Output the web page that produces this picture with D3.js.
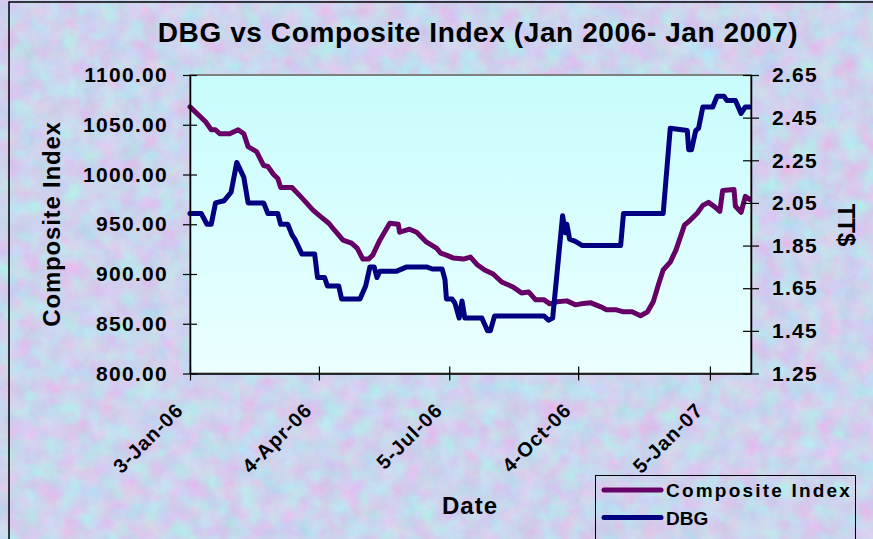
<!DOCTYPE html>
<html>
<head>
<meta charset="utf-8">
<script src="https://cdn.jsdelivr.net/npm/d3@7"></script>
<style>
  body { margin: 0; background: #ffffff; }
  svg { display: block; }
  text { font-family: 'Liberation Sans', Arial, sans-serif; font-weight: bold; fill: #000; }
</style>
</head>
<body>
<script>
// Composite Index (left axis)
const compositeDates = ['2006-01-03','2006-01-14','2006-01-18','2006-01-21','2006-01-24','2006-01-31','2006-02-06','2006-02-10','2006-02-13','2006-02-19',
  '2006-02-24','2006-02-27','2006-03-03','2006-03-06','2006-03-08','2006-03-16','2006-03-22','2006-03-31','2006-04-05','2006-04-11',
  '2006-04-15','2006-04-21','2006-04-27','2006-05-01','2006-05-05','2006-05-09','2006-05-12','2006-05-17','2006-05-24','2006-05-30',
  '2006-05-31','2006-06-07','2006-06-12','2006-06-19','2006-06-26','2006-06-29','2006-07-03','2006-07-08','2006-07-15','2006-07-20',
  '2006-07-25','2006-07-30','2006-08-05','2006-08-11','2006-08-19','2006-08-25','2006-08-30','2006-09-04','2006-09-10','2006-09-14',
  '2006-09-19','2006-09-26','2006-10-02','2006-10-06','2006-10-13','2006-10-20','2006-10-24','2006-10-31','2006-11-05','2006-11-11',
  '2006-11-17','2006-11-22','2006-11-26','2006-11-30','2006-12-03','2006-12-08','2006-12-12','2006-12-18','2006-12-22','2006-12-27',
  '2006-12-31','2007-01-04','2007-01-08','2007-01-12','2007-01-14','2007-01-22','2007-01-23','2007-01-27','2007-01-30','2007-02-02'];
const compositeValues = [1068,1053,1045,1045,1041,1041,1045,1041,1028,1023,
  1009,1008,1000,996,987,987,978,964,958,951,
  944,934,931,926,915,915,919,934,951,950,
  942,945,942,932,926,921,919,916,915,917,
  909,904,900,892,887,881,882,874,874,870,
  872,873,869,870,871,867,864,864,862,862,
  858,862,872,891,904,912,924,949,954,961,
  969,972,968,963,984,985,968,962,978,975];

// DBG share price in TT$ (right axis)
const dbgDates = ['2006-01-03','2006-01-11','2006-01-15','2006-01-18','2006-01-21','2006-01-27','2006-02-01','2006-02-05','2006-02-10','2006-02-13',
  '2006-02-24','2006-02-27','2006-03-06','2006-03-08','2006-03-13','2006-03-16','2006-03-18','2006-03-23','2006-04-01','2006-04-03',
  '2006-04-08','2006-04-10','2006-04-18','2006-04-20','2006-05-03','2006-05-07','2006-05-10','2006-05-13','2006-05-15','2006-05-17',
  '2006-05-29','2006-06-05','2006-06-19','2006-06-23','2006-06-30','2006-07-02','2006-07-03','2006-07-07','2006-07-09','2006-07-12',
  '2006-07-14','2006-07-16','2006-07-28','2006-08-01','2006-08-03','2006-08-06','2006-09-10','2006-09-13','2006-09-16','2006-09-23',
  '2006-09-25','2006-09-26','2006-09-28','2006-10-02','2006-10-07','2006-11-03','2006-11-05','2006-12-03','2006-12-08','2006-12-20',
  '2006-12-21','2006-12-23','2006-12-26','2006-12-28','2006-12-31','2007-01-07','2007-01-10','2007-01-15','2007-01-17','2007-01-23',
  '2007-01-27','2007-01-30','2007-02-02'];
const dbgValues = [2.00,2.00,1.95,1.95,2.05,2.06,2.10,2.24,2.17,2.05,
  2.05,2.00,2.00,1.95,1.95,1.90,1.88,1.81,1.81,1.70,
  1.70,1.66,1.66,1.60,1.60,1.66,1.75,1.75,1.70,1.73,
  1.73,1.75,1.75,1.74,1.74,1.69,1.60,1.60,1.58,1.51,
  1.59,1.51,1.51,1.45,1.45,1.52,1.52,1.50,1.51,1.99,
  1.91,1.95,1.88,1.87,1.85,1.85,2.00,2.00,2.40,2.39,
  2.30,2.30,2.39,2.40,2.50,2.50,2.55,2.55,2.53,2.53,
  2.47,2.50,2.50];

const leftTicks = [800, 850, 900, 950, 1000, 1050, 1100];
const rightTicks = [1.25, 1.45, 1.65, 1.85, 2.05, 2.25, 2.45, 2.65];
const dateTicks = ['2006-01-03', '2006-04-04', '2006-07-05', '2006-10-04', '2007-01-05'];

const width = 873;
const height = 539;
const plot = { left: 190, right: 751, top: 75, bottom: 373.5 };

const parse = d3.timeParse('%Y-%m-%d');
const composite = compositeDates.map((d, i) => ({ date: parse(d), value: compositeValues[i] }));
const dbg = dbgDates.map((d, i) => ({ date: parse(d), value: dbgValues[i] }));

const svg = d3.select('body').append('svg')
  .attr('width', width)
  .attr('height', height);

const defs = svg.append('defs');

// mottled pastel paper texture behind the chart
const paper = defs.append('filter')
  .attr('id', 'paper')
  .attr('x', 0).attr('y', 0).attr('width', 1).attr('height', 1)
  .attr('color-interpolation-filters', 'sRGB');
paper.append('feTurbulence')
  .attr('type', 'fractalNoise')
  .attr('baseFrequency', 0.05)
  .attr('numOctaves', 4)
  .attr('seed', 7);
paper.append('feColorMatrix')
  .attr('type', 'matrix')
  .attr('values', '0.28 0 0 0 0.66  -0.2 0.14 0 0 0.86  0 0 0.08 0 0.89  0 0 0 0 1');

const grad = defs.append('linearGradient')
  .attr('id', 'plotFill')
  .attr('x1', 0).attr('y1', 0).attr('x2', 0).attr('y2', 1);
grad.append('stop').attr('offset', '0%').attr('stop-color', '#c8fcfc');
grad.append('stop').attr('offset', '100%').attr('stop-color', '#ebffff');

svg.append('rect')
  .attr('width', width).attr('height', height)
  .attr('fill', '#cdd5ef')
  .attr('filter', 'url(#paper)');

// outer frame
svg.append('rect')
  .attr('x', 9).attr('y', 2)
  .attr('width', 900).attr('height', 600)
  .attr('fill', 'none')
  .attr('stroke', '#000')
  .attr('stroke-width', 1.5);

// scales
const x = d3.scaleTime()
  .domain([parse('2006-01-03'), parse('2007-02-03')])
  .range([plot.left, plot.right]);

const yLeft = d3.scaleLinear()
  .domain([800, 1100])
  .range([plot.bottom, plot.top]);

const yRight = d3.scaleLinear()
  .domain([1.25, 2.65])
  .range([plot.bottom, plot.top]);

// plot area
svg.append('rect')
  .attr('x', plot.left).attr('y', plot.top)
  .attr('width', plot.right - plot.left)
  .attr('height', plot.bottom - plot.top)
  .attr('fill', 'url(#plotFill)')
  .attr('stroke', '#808080')
  .attr('stroke-width', 2);

// title
svg.append('text')
  .attr('x', 478).attr('y', 42)
  .attr('text-anchor', 'middle')
  .style('font-size', '28px')
  .style('letter-spacing', '0.6px')
  .text('DBG vs Composite Index (Jan 2006- Jan 2007)');

// lines
const lineLeft = d3.line().x(d => x(d.date)).y(d => yLeft(d.value));
const lineRight = d3.line().x(d => x(d.date)).y(d => yRight(d.value));

svg.append('path')
  .datum(composite)
  .attr('d', lineLeft)
  .attr('fill', 'none')
  .attr('stroke', '#660066')
  .attr('stroke-width', 5)
  .attr('stroke-linejoin', 'round')
  .attr('stroke-linecap', 'round');

svg.append('path')
  .datum(dbg)
  .attr('d', lineRight)
  .attr('fill', 'none')
  .attr('stroke', '#000080')
  .attr('stroke-width', 5)
  .attr('stroke-linejoin', 'round')
  .attr('stroke-linecap', 'round');

// axes
const axLeft = svg.append('g')
  .attr('transform', `translate(${plot.left},0)`)
  .call(d3.axisLeft(yLeft).tickValues(leftTicks).tickFormat(d3.format('.2f')).tickSize(7).tickSizeOuter(0).tickPadding(15));
axLeft.selectAll('.tick line').attr('x1', 7);

const axRight = svg.append('g')
  .attr('transform', `translate(${plot.right},0)`)
  .call(d3.axisRight(yRight).tickValues(rightTicks).tickFormat(d3.format('.2f')).tickSize(8).tickSizeOuter(0).tickPadding(13));
axRight.selectAll('.tick line').attr('x1', -8);

const axBottom = svg.append('g')
  .attr('transform', `translate(0,${plot.bottom})`)
  .call(d3.axisBottom(x).tickValues(dateTicks.map(parse)).tickFormat(d3.timeFormat('%-d-%b-%y')).tickSize(7).tickSizeOuter(0));
axBottom.selectAll('.tick line').attr('y1', -7);
axBottom.selectAll('.tick text')
  .attr('x', 0).attr('y', 0).attr('dy', null)
  .attr('text-anchor', 'end')
  .attr('transform', 'translate(-6,38) rotate(-45)')
  .style('font-size', '20px')
  .style('letter-spacing', '1px');

[axLeft, axRight, axBottom].forEach(g => {
  g.select('.domain').attr('stroke', '#000').attr('stroke-width', 1.5);
  g.selectAll('.tick line').attr('stroke', '#000').attr('stroke-width', 1.2);
});
[axLeft, axRight].forEach(g => {
  g.selectAll('.tick text')
    .style('font-size', '21px')
    .style('letter-spacing', '1.3px')
    .style('font-family', "'Liberation Sans', Arial, sans-serif");
});
axBottom.selectAll('.tick text').style('font-family', "'Liberation Sans', Arial, sans-serif");

// axis titles
svg.append('text')
  .attr('transform', 'translate(60,224) rotate(-90)')
  .attr('text-anchor', 'middle')
  .style('font-size', '24px')
  .style('letter-spacing', '0.8px')
  .text('Composite Index');

svg.append('text')
  .attr('transform', 'translate(838,225) rotate(90)')
  .attr('text-anchor', 'middle')
  .style('font-size', '24px')
  .text('TT$');

svg.append('text')
  .attr('x', 470).attr('y', 514)
  .attr('text-anchor', 'middle')
  .style('font-size', '24px')
  .style('letter-spacing', '1px')
  .text('Date');

// legend
const legend = svg.append('g');
legend.append('rect')
  .attr('x', 595.5).attr('y', 475.5)
  .attr('width', 260).attr('height', 80)
  .attr('fill', 'none')
  .attr('stroke', '#000')
  .attr('stroke-width', 1);

const legendItems = [
  { name: 'Composite Index', color: '#660066', spacing: '2.2px' },
  { name: 'DBG', color: '#000080', spacing: '0px' }
];
legendItems.forEach((d, i) => {
  const cy = 490 + i * 27.5;
  legend.append('line')
    .attr('x1', 604).attr('x2', 661)
    .attr('y1', cy).attr('y2', cy)
    .attr('stroke', d.color)
    .attr('stroke-width', 5)
    .attr('stroke-linecap', 'round');
  legend.append('text')
    .attr('x', 666).attr('y', cy + 7)
    .style('font-size', '19px')
    .style('letter-spacing', d.spacing)
    .text(d.name);
});
</script>
</body>
</html>
